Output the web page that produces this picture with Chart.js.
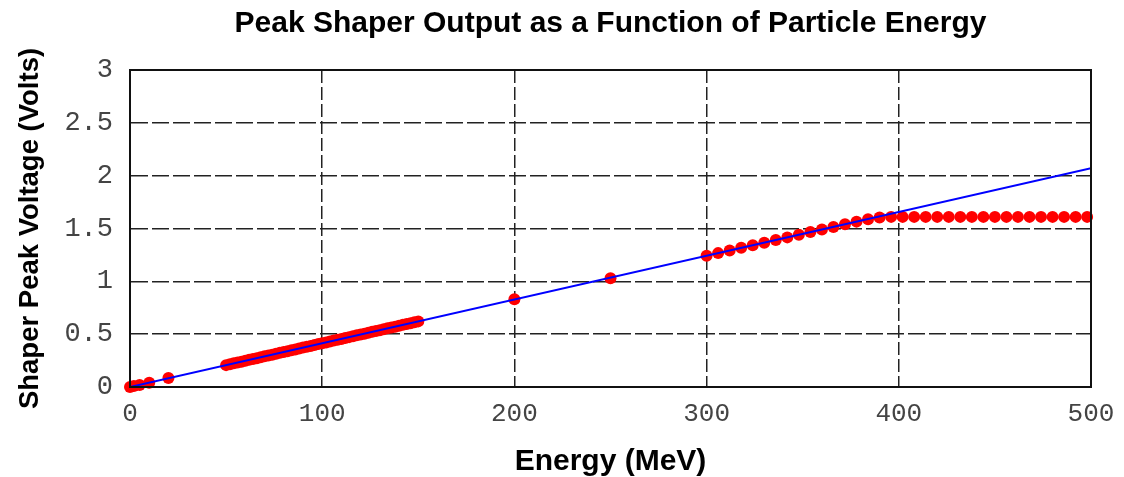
<!DOCTYPE html>
<html>
<head>
<meta charset="utf-8">
<script src="https://cdn.jsdelivr.net/npm/chart.js@4.4.1/dist/chart.umd.min.js"></script>
<style>
  html, body { margin: 0; padding: 0; background: #ffffff; }
  #wrap { width: 1124px; height: 477px; }
</style>
</head>
<body>
<div id="wrap"><canvas id="c" width="1124" height="477"></canvas></div>
<script>
// Measured points: energy (MeV) and shaper peak voltage (V)
const measEnergy = [
  0, 2, 5, 10, 20,
  50, 52, 54, 56, 58, 60, 62, 64, 66, 68, 70, 72, 74, 76, 78, 80, 82, 84, 86, 88, 90,
  92, 94, 96, 98, 100, 102, 104, 106, 108, 110, 112, 114, 116, 118, 120, 122, 124, 126,
  128, 130, 132, 134, 136, 138, 140, 142, 144, 146, 148, 150,
  200, 250,
  300, 306, 312, 318, 324, 330, 336, 342, 348, 354, 360, 366, 372, 378, 384, 390, 396,
  402, 408, 414, 420, 426, 432, 438, 444, 450, 456, 462, 468, 474, 480, 486, 492, 498
];
const measVoltage = [
  0, 0.01, 0.02, 0.04, 0.085,
  0.207, 0.215, 0.224, 0.232, 0.240, 0.248, 0.257, 0.265, 0.273, 0.282, 0.290, 0.298, 0.306,
  0.315, 0.323, 0.331, 0.339, 0.348, 0.356, 0.364, 0.373, 0.381, 0.389, 0.397, 0.406, 0.414,
  0.422, 0.431, 0.439, 0.447, 0.455, 0.464, 0.472, 0.480, 0.489, 0.497, 0.505, 0.513, 0.522,
  0.530, 0.538, 0.546, 0.555, 0.563, 0.571, 0.580, 0.588, 0.596, 0.604, 0.613, 0.621,
  0.83, 1.03,
  1.242, 1.267, 1.292, 1.317, 1.341, 1.366, 1.391, 1.416, 1.441, 1.466, 1.490, 1.515, 1.540,
  1.565, 1.588, 1.603, 1.61,
  1.61, 1.61, 1.61, 1.61, 1.61, 1.61, 1.61, 1.61, 1.61, 1.61, 1.61, 1.61, 1.61, 1.61, 1.61, 1.61, 1.61
];
// Linear fit line
const fitEnergy = [0, 500];
const fitVoltage = [0, 2.07];

const xTicks = [0, 100, 200, 300, 400, 500];
const yTicks = [0, 0.5, 1, 1.5, 2, 2.5, 3];

const titleText = 'Peak Shaper Output as a Function of Particle Energy';
const xTitle = 'Energy (MeV)';
const yTitle = 'Shaper Peak Voltage (Volts)';

const toXY = (xs, ys) => xs.map((x, i) => ({ x: x, y: ys[i] }));

const framePlugin = {
  id: 'frame',
  afterDatasetsDraw(chart) {
    const { ctx, chartArea: a } = chart;
    ctx.save();
    ctx.strokeStyle = '#111';
    ctx.lineWidth = 2;
    ctx.setLineDash([]);
    ctx.strokeRect(a.left, a.top, a.right - a.left, a.bottom - a.top);
    ctx.restore();
  }
};

new Chart(document.getElementById('c'), {
  type: 'scatter',
  data: {
    datasets: [
      {
        type: 'line',
        label: 'fit',
        data: toXY(fitEnergy, fitVoltage),
        borderColor: '#0000ff',
        borderWidth: 2,
        pointRadius: 0,
        fill: false
      },
      {
        label: 'measured',
        data: toXY(measEnergy, measVoltage),
        backgroundColor: '#ff0000',
        borderWidth: 0,
        pointRadius: 6,
        clip: false
      }
    ]
  },
  options: {
    responsive: false,
    animation: false,
    devicePixelRatio: 1,
    layout: { padding: { left: 14, right: 33, top: 0, bottom: 0 } },
    plugins: {
      legend: { display: false },
      tooltip: { enabled: false },
      title: {
        display: true,
        fullSize: false,
        text: titleText,
        color: '#000',
        font: { family: 'Liberation Sans', size: 30, weight: 'bold' },
        padding: { top: 6, bottom: 28 }
      }
    },
    scales: {
      x: {
        type: 'linear',
        min: 0,
        max: 500,
        afterBuildTicks: (s) => { s.ticks = xTicks.map(v => ({ value: v })); },
        afterFit: (s) => { s.height = 90; s.paddingRight = 0; s.paddingLeft = 0; },
        ticks: {
          color: '#444',
          font: { family: 'Liberation Mono', size: 26 },
          padding: 12,
          callback: (v) => String(v)
        },
        grid: { color: '#222', lineWidth: 1.5, drawTicks: false },
        border: { display: true, color: '#111', width: 2, dash: [13, 4] },
        title: {
          display: true,
          text: xTitle,
          color: '#000',
          font: { family: 'Liberation Sans', size: 30, weight: 'bold' },
          padding: { top: 2, bottom: -3 }
        }
      },
      y: {
        type: 'linear',
        min: 0,
        max: 3,
        afterBuildTicks: (s) => { s.ticks = yTicks.map(v => ({ value: v })); },
        afterFit: (s) => { s.width = 116; },
        ticks: {
          color: '#444',
          font: { family: 'Liberation Mono', size: 27 },
          padding: 17,
          callback: (v) => String(v)
        },
        grid: { color: '#222', lineWidth: 1.5, drawTicks: false },
        border: { display: true, color: '#111', width: 2, dash: [17, 4] },
        title: {
          display: true,
          text: yTitle,
          color: '#000',
          font: { family: 'Liberation Sans', size: 27.5, weight: 'bold' },
          padding: { top: 0, bottom: 4 }
        }
      }
    }
  },
  plugins: [framePlugin]
});
</script>
</body>
</html>
